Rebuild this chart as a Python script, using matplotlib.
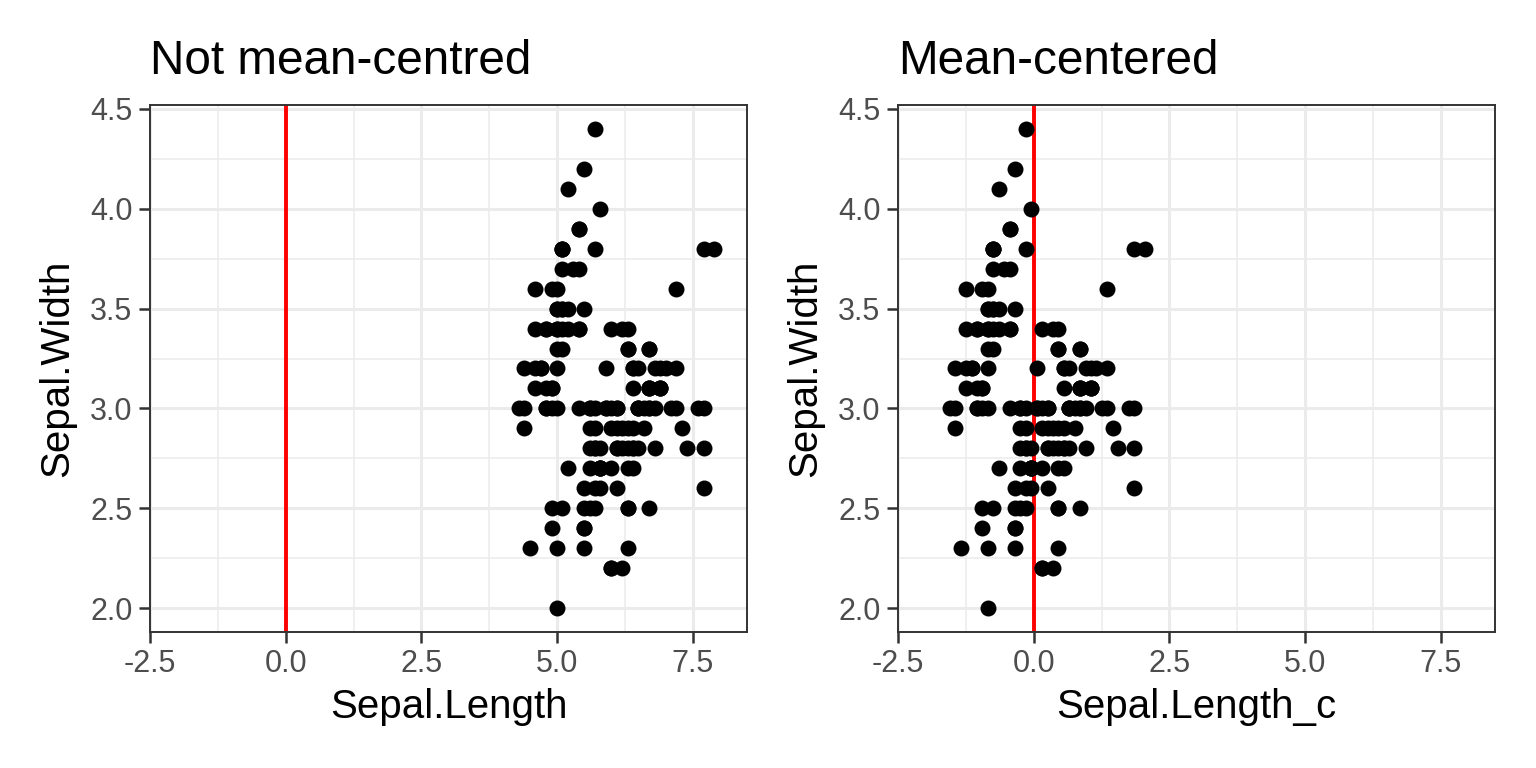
import numpy as np
import matplotlib.pyplot as plt

plt.rcParams['font.family'] = ['Liberation Sans', 'DejaVu Sans']
plt.rcParams['axes.unicode_minus'] = False

# iris: Sepal.Length and Sepal.Width (R's built-in dataset)
sepal_length = [
    5.1, 4.9, 4.7, 4.6, 5.0, 5.4, 4.6, 5.0, 4.4, 4.9, 5.4, 4.8, 4.8, 4.3, 5.8,
    5.7, 5.4, 5.1, 5.7, 5.1, 5.4, 5.1, 4.6, 5.1, 4.8, 5.0, 5.0, 5.2, 5.2, 4.7,
    4.8, 5.4, 5.2, 5.5, 4.9, 5.0, 5.5, 4.9, 4.4, 5.1, 5.0, 4.5, 4.4, 5.0, 5.1,
    4.8, 5.1, 4.6, 5.3, 5.0,
    7.0, 6.4, 6.9, 5.5, 6.5, 5.7, 6.3, 4.9, 6.6, 5.2, 5.0, 5.9, 6.0, 6.1, 5.6,
    6.7, 5.6, 5.8, 6.2, 5.6, 5.9, 6.1, 6.3, 6.1, 6.4, 6.6, 6.8, 6.7, 6.0, 5.7,
    5.5, 5.5, 5.8, 6.0, 5.4, 6.0, 6.7, 6.3, 5.6, 5.5, 5.5, 6.1, 5.8, 5.0, 5.6,
    5.7, 5.7, 6.2, 5.1, 5.7,
    6.3, 5.8, 7.1, 6.3, 6.5, 7.6, 4.9, 7.3, 6.7, 7.2, 6.5, 6.4, 6.8, 5.7, 5.8,
    6.4, 6.5, 7.7, 7.7, 6.0, 6.9, 5.6, 7.7, 6.3, 6.7, 7.2, 6.2, 6.1, 6.4, 7.2,
    7.4, 7.9, 6.4, 6.3, 6.1, 7.7, 6.3, 6.4, 6.0, 6.9, 6.7, 6.9, 5.8, 6.8, 6.7,
    6.7, 6.3, 6.5, 6.2, 5.9,
]
sepal_width = [
    3.5, 3.0, 3.2, 3.1, 3.6, 3.9, 3.4, 3.4, 2.9, 3.1, 3.7, 3.4, 3.0, 3.0, 4.0,
    4.4, 3.9, 3.5, 3.8, 3.8, 3.4, 3.7, 3.6, 3.3, 3.4, 3.0, 3.4, 3.5, 3.4, 3.2,
    3.1, 3.4, 4.1, 4.2, 3.1, 3.2, 3.5, 3.6, 3.0, 3.4, 3.5, 2.3, 3.2, 3.5, 3.8,
    3.0, 3.8, 3.2, 3.7, 3.3,
    3.2, 3.2, 3.1, 2.3, 2.8, 2.8, 3.3, 2.4, 2.9, 2.7, 2.0, 3.0, 2.2, 2.9, 2.9,
    3.1, 3.0, 2.7, 2.2, 2.5, 3.2, 2.8, 2.5, 2.8, 2.9, 3.0, 2.8, 3.0, 2.9, 2.6,
    2.4, 2.4, 2.7, 2.7, 3.0, 3.4, 3.1, 2.3, 3.0, 2.5, 2.6, 3.0, 2.6, 2.3, 2.7,
    3.0, 2.9, 2.9, 2.5, 2.8,
    3.3, 2.7, 3.0, 2.9, 3.0, 3.0, 2.5, 2.9, 2.5, 3.6, 3.2, 2.7, 3.0, 2.5, 2.8,
    3.2, 3.0, 3.8, 2.6, 2.2, 3.2, 2.8, 2.8, 2.7, 3.3, 3.2, 2.8, 3.0, 2.8, 3.0,
    2.8, 3.8, 2.8, 2.8, 2.6, 3.0, 3.4, 3.1, 3.0, 3.1, 3.1, 3.1, 2.7, 3.2, 3.3,
    3.0, 2.5, 3.0, 3.4, 3.0,
]

x = np.array(sepal_length)
y = np.array(sepal_width)
x_c = x - x.mean()

titles = ["Not mean-centred", "Mean-centered"]
xlabels = ["Sepal.Length", "Sepal.Length_c"]
xticks = [-2.5, 0.0, 2.5, 5.0, 7.5]
yticks = [2.0, 2.5, 3.0, 3.5, 4.0, 4.5]

fig = plt.figure(figsize=(7.68, 3.84), dpi=200)
lefts = [150 / 1536, 898 / 1536]
widths = [597 / 1536, 597 / 1536]
bottom = 1 - 632 / 768
height = (632 - 105) / 768

for i, (xs, title, xlab) in enumerate(zip([x, x_c], titles, xlabels)):
    ax = fig.add_axes([lefts[i], bottom, widths[i], height])
    ax.set_xlim(-2.5, 8.5)
    ax.set_ylim(1.88, 4.52)
    ax.set_xticks(xticks)
    ax.set_yticks(yticks)
    ax.set_xticks([-1.25, 1.25, 3.75, 6.25], minor=True)
    ax.set_yticks([2.25, 2.75, 3.25, 3.75, 4.25], minor=True)
    ax.grid(True, which="major", color="#EBEBEB", linewidth=1.1)
    ax.grid(True, which="minor", color="#EBEBEB", linewidth=0.55)
    ax.set_axisbelow(True)
    ax.tick_params(which="minor", length=0)
    ax.tick_params(which="major", length=3.8, width=0.9, color="#333333",
                   labelsize=11, labelcolor="#4D4D4D", pad=2.5)
    for s in ax.spines.values():
        s.set_color("#333333")
        s.set_linewidth(0.7)
    ax.axvline(0, color="red", linewidth=1.4, zorder=2)
    ax.scatter(xs, y, s=33, color="black", linewidths=0, zorder=3)
    ax.set_xlabel(xlab, fontsize=14.5, labelpad=3)
    ax.set_ylabel("Sepal.Width", fontsize=14.5, labelpad=5)
    ax.set_title(title, fontsize=17.2, loc="left", pad=11)

fig.savefig("out.png", dpi=200)
